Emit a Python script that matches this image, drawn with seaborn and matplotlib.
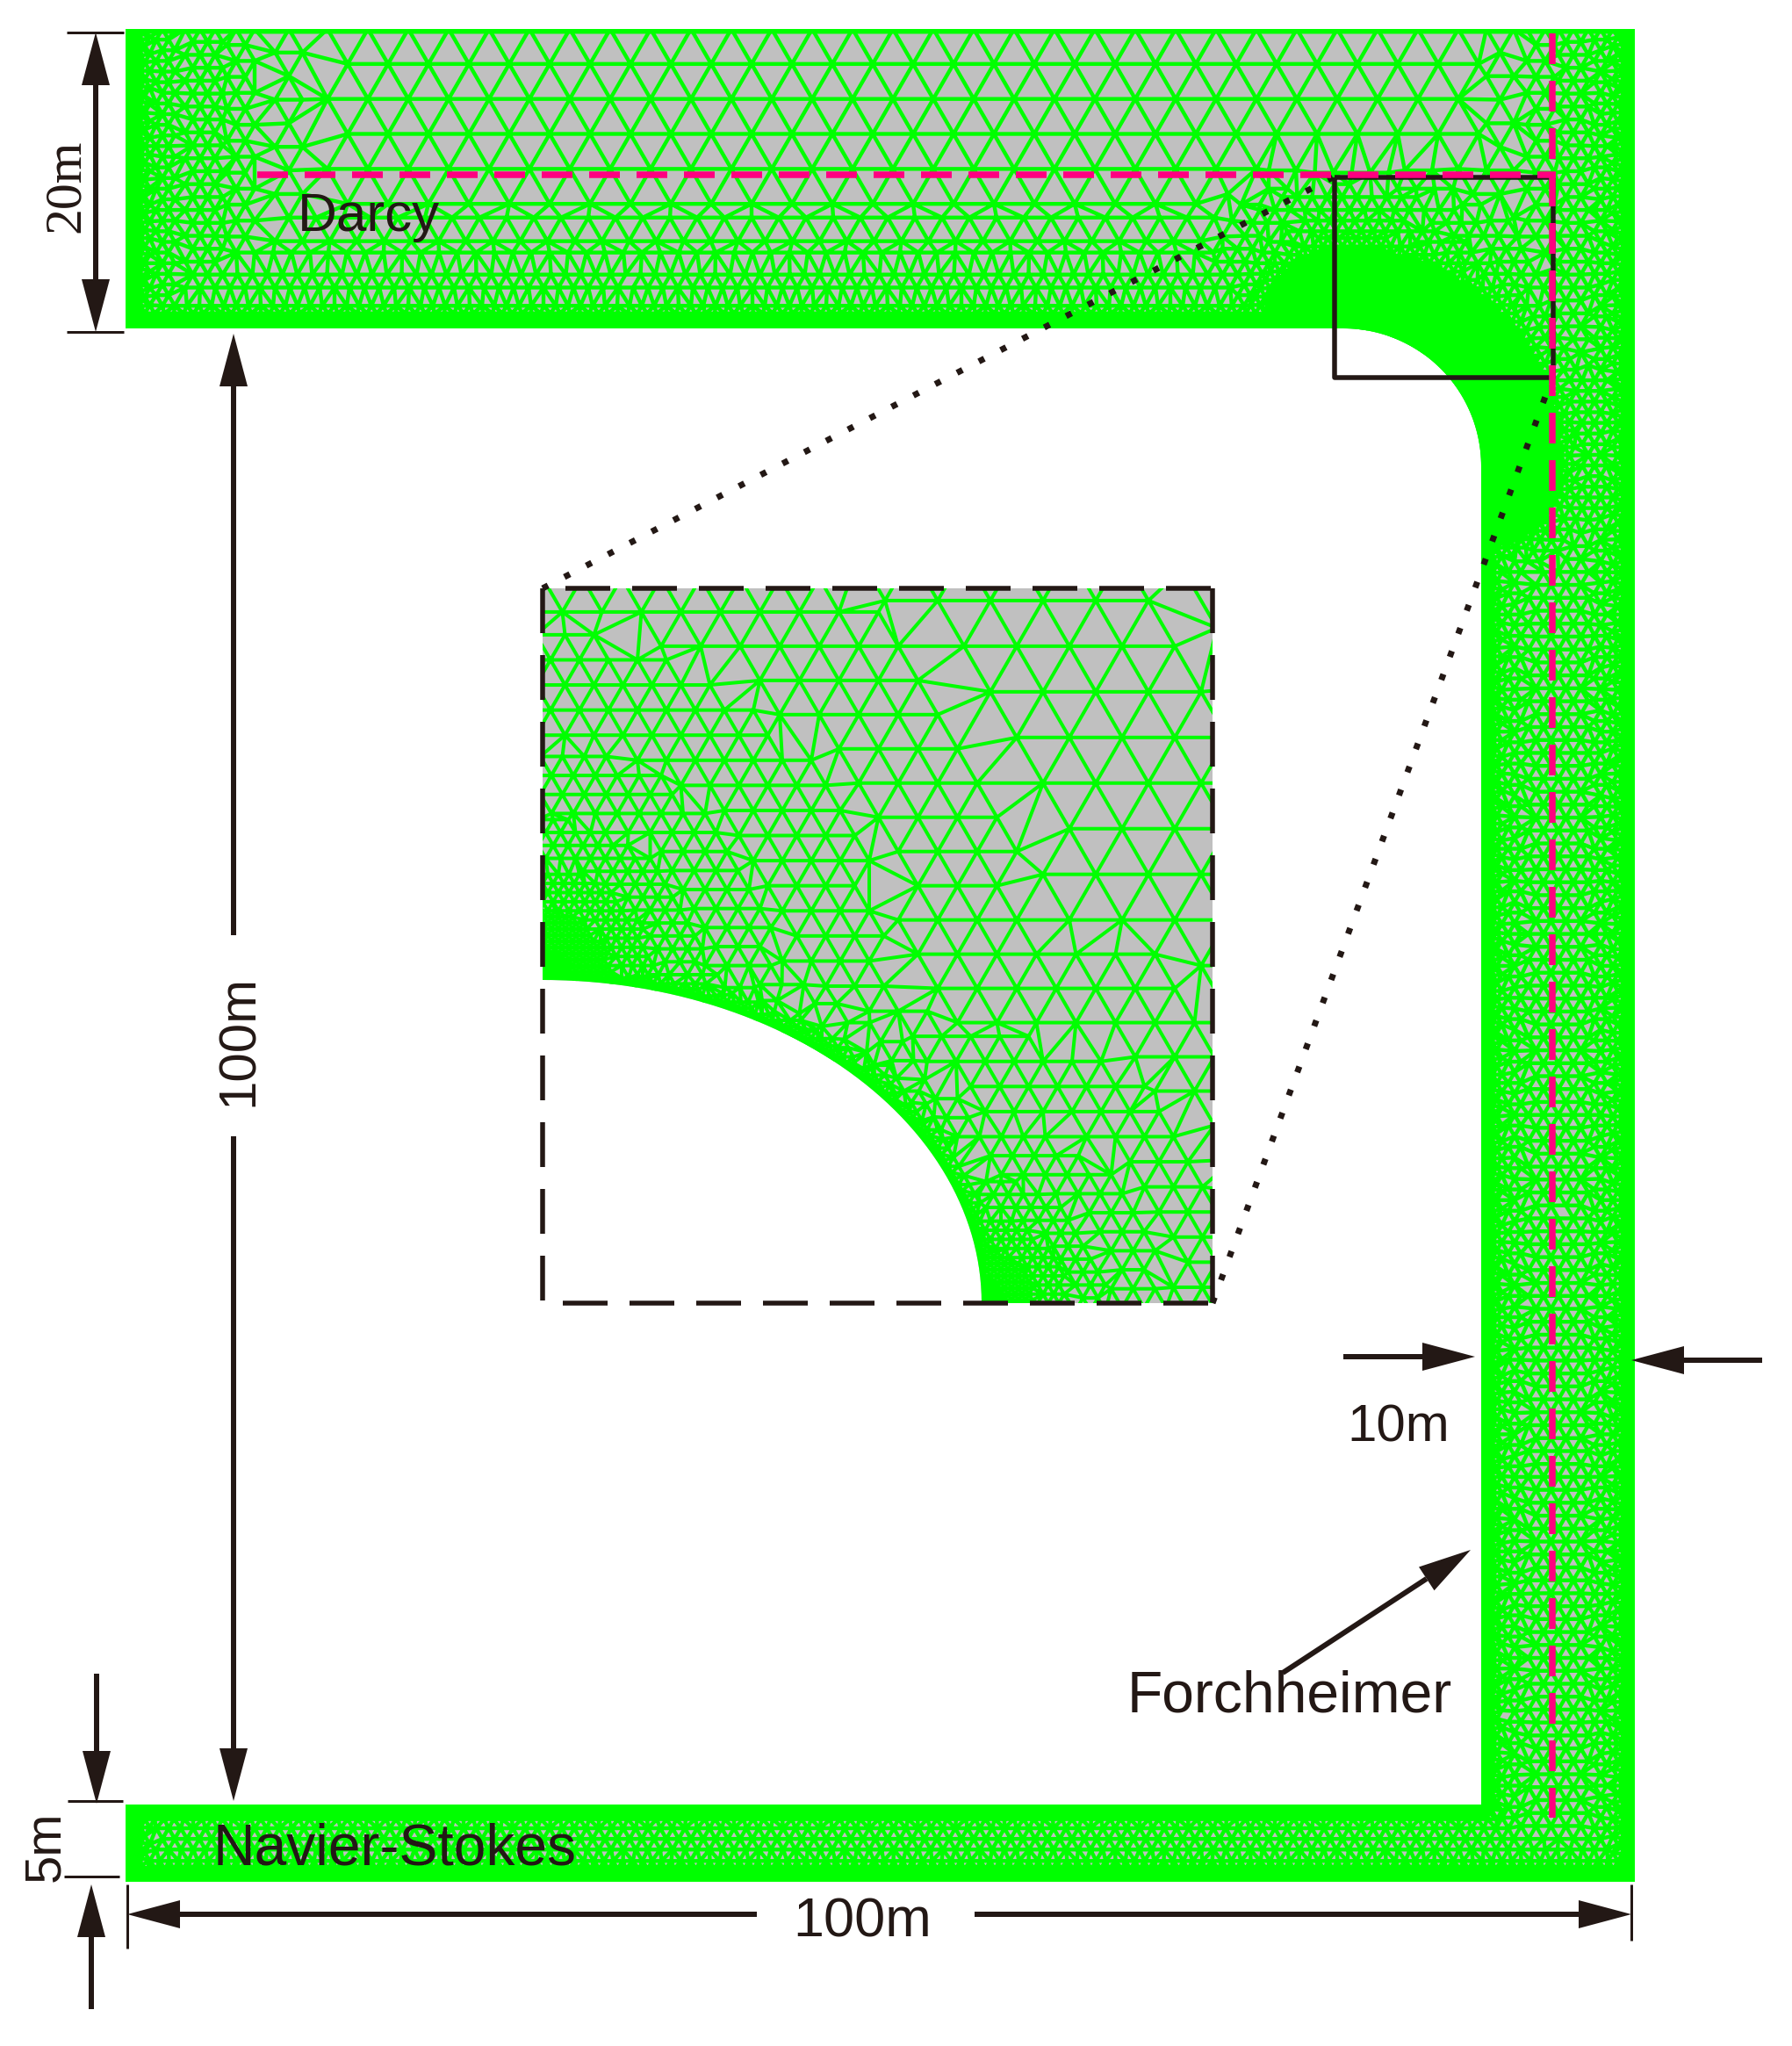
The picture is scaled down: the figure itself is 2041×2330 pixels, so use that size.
"""Mesh schematic of the Darcy / Forchheimer / Navier-Stokes channel, drawn in image pixels."""

import matplotlib.pyplot as plt
import matplotlib.tri as mtri
import numpy as np
import seaborn as sns
from matplotlib.patches import Polygon

W, H = 2041, 2330
PT = 0.72  # one pixel in points at dpi 100

GREEN = "#00ff00"
GRAY = "#c0c0c0"
INK = "#231815"
PINK = "#ff0080"

# channel outline
LEFT, RIGHT, TOP, BOTTOM = 143, 1862, 33, 2143
BAND_BOTTOM, LOWER_TOP, INNER_X = 374, 2055, 1687
CORNER_X, CORNER_Y, CORNER_R = 1530, 531, 157

# element size against distance to a wall, main mesh
MAIN_SIZES = [5, 11, 14, 17, 21, 31, 46]
MAIN_DIST = [0, 16, 26, 48, 90, 125, 170, 9999]

# element size against distance to the arc, zoomed mesh
INSET_SIZES = [4, 8, 12, 17, 25, 33, 45, 60, 78]
INSET_DIST = [0, 12, 28, 45, 65, 95, 140, 200, 300, 9999]
INSET_BOX = [618, 1381, 670, 1484]
INSET_A, INSET_B = 500, 368

# dimension arrows: tail x, tail y, tip x, tip y
ARROWS = [
    (109, 207, 109, 37), (109, 207, 109, 378),
    (266, 1065, 266, 380), (266, 1294, 266, 2051),
    (110, 1906, 110, 2054), (104, 2288, 104, 2146),
    (862, 2180, 145, 2180), (1110, 2180, 1858, 2180),
    (1530, 1545, 1680, 1545), (2007, 1549, 1858, 1549),
    (1461, 1905, 1675, 1765),
]
# thin extension lines: x0, y0, x1, y1
TICKS = [
    (76, 37, 141, 37), (76, 378, 141, 378),
    (77, 2051, 140, 2051), (73, 2137, 136, 2137),
    (145, 2146, 145, 2219), (1858, 2146, 1858, 2210),
]
# text, x, baseline y, size in px, rotation
LABELS = [
    ("Darcy", 339, 263, 62, 0),
    ("Navier-Stokes", 243, 2123, 66, 0),
    ("Forchheimer", 1284, 1949, 66, 0),
    ("10m", 1534, 1641, 60, 0),
    ("100m", 903, 2205, 63, 0),
    ("100m", 288, 1260, 60, 90),
    ("5m", 67, 2143, 58, 90),
]

sns.set_theme(style="white")
plt.rcParams["font.family"] = ["Liberation Sans", "DejaVu Sans"]
plt.rcParams["agg.path.chunksize"] = 10000


def seg(ax, xs, ys, px, ls="-", color=INK):
    sns.lineplot(x=xs, y=ys, ax=ax, color=color, linewidth=px * PT, linestyle=ls,
                 estimator=None, sort=False, legend=False,
                 solid_capstyle="butt")


def dashes(on, off, px):
    return (0, (on / px, off / px))


def arrow(ax, x0, y0, x1, y1, head=60, half=16, px=6):
    length = np.hypot(x1 - x0, y1 - y0)
    ux, uy = (x1 - x0) / length, (y1 - y0) / length
    bx, by = x1 - ux * head, y1 - uy * head
    seg(ax, [x0, bx], [y0, by], px)
    ax.fill([x1, bx - uy * half, bx + uy * half], [y1, by + ux * half, by - ux * half],
            color=INK, lw=0, zorder=6)


def hex_lattice(size, x0, x1, y0, y1):
    rows = np.arange(y0, y1 + size, size * np.sqrt(3) / 2)
    cols = np.arange(x0, x1 + size, size)
    gx, gy = np.meshgrid(cols, rows)
    gx = gx + (np.arange(len(rows)) % 2)[:, None] * size / 2
    return gx.ravel(), gy.ravel()


def main_inside(x, y):
    outer = (x >= LEFT) & (x <= RIGHT) & (y >= TOP) & (y <= BOTTOM)
    hole = (y > BAND_BOTTOM) & (y < LOWER_TOP) & (x < INNER_X)
    corner = (x > CORNER_X) & (y < CORNER_Y) & (np.hypot(x - CORNER_X, y - CORNER_Y) > CORNER_R)
    return outer & ~(hole & ~corner)


def main_distance(x, y):
    # distance to the walls, the top edge is not refined
    d = np.minimum.reduce([(x - LEFT) * 0.8, RIGHT - x, BOTTOM - y])
    r = np.hypot(x - CORNER_X, y - CORNER_Y)
    in_corner = (x >= CORNER_X) & (y <= CORNER_Y)
    hole = np.where(y <= BAND_BOTTOM, (BAND_BOTTOM - y) * 1.3, 1e6)
    hole = np.where(in_corner, r - CORNER_R, hole)
    hole = np.where((x > INNER_X) & (y > CORNER_Y) & (y < LOWER_TOP), x - INNER_X, hole)
    hole = np.where((x <= INNER_X) & (y >= LOWER_TOP), y - LOWER_TOP, hole)
    hole = np.where((x > INNER_X) & (y >= LOWER_TOP), np.hypot(x - INNER_X, y - LOWER_TOP), hole)
    # the mesh is much finer around the rounded corner
    arc = np.where(in_corner, np.abs(r - CORNER_R),
                   np.where(x < CORNER_X, np.hypot(x - CORNER_X, y - BAND_BOTTOM),
                            np.hypot(x - INNER_X, y - CORNER_Y)))
    return np.minimum.reduce([d, hole, (arc / 100) ** 3 * 20])


def main_nodes():
    xs, ys = [], []
    for i, size in enumerate(MAIN_SIZES):
        x, y = hex_lattice(size, LEFT, RIGHT, TOP, BOTTOM)
        keep = main_inside(x, y)
        x, y = x[keep], y[keep]
        d = main_distance(x, y)
        keep = (d >= MAIN_DIST[i]) & (d < MAIN_DIST[i + 1])
        xs.append(x[keep])
        ys.append(y[keep])
    return np.concatenate(xs), np.concatenate(ys)


def inset_nodes():
    x0, x1, y0, y1 = INSET_BOX
    t = np.linspace(0, np.pi / 2, 400)
    ax_, ay_ = x0 + INSET_A * np.cos(t), y1 - INSET_B * np.sin(t)
    xs, ys = [], []
    for i, size in enumerate(INSET_SIZES):
        x, y = hex_lattice(size, x0 - 90, x1 + 90, y0 - 90, y1 + 90)
        keep = ((x - x0) / INSET_A) ** 2 + ((y - y1) / INSET_B) ** 2 > 1
        keep &= (x >= x0 - 1) | (y < y1 - INSET_B - 5)
        x, y = x[keep], y[keep]
        d = np.min(np.hypot(x[:, None] - ax_, y[:, None] - ay_), axis=1)
        left = np.hypot(x - x0, y - (y1 - INSET_B))
        right = np.hypot(x - (x0 + INSET_A), y - y1)
        e = np.minimum.reduce([2 * d, d + 30, 0.35 * left, 0.45 * right])
        keep = (e >= INSET_DIST[i]) & (e < INSET_DIST[i + 1])
        xs.append(x[keep])
        ys.append(y[keep])
    return np.concatenate(xs), np.concatenate(ys)


def draw_mesh(ax, outline, nodes, lw_px, edge_px=0):
    patch = Polygon(outline, closed=True, facecolor=GRAY, edgecolor="none", zorder=1)
    ax.add_patch(patch)
    pts = np.unique(np.column_stack(nodes), axis=0)
    tri = mtri.Triangulation(pts[:, 0], pts[:, 1])
    lines, _ = ax.triplot(tri, color=GREEN, lw=lw_px * PT, zorder=2)
    lines.set_clip_path(patch)
    if edge_px:
        edge = Polygon(outline, closed=True, facecolor="none", edgecolor=GREEN,
                       lw=edge_px * PT, zorder=2)
        ax.add_patch(edge)
        edge.set_clip_path(patch)


def main():
    fig = plt.figure(figsize=(W / 100, H / 100), dpi=100)
    ax = fig.add_axes([0, 0, 1, 1])

    # channel mesh
    t = np.linspace(0, np.pi / 2, 60)
    arc = np.column_stack([CORNER_X + CORNER_R * np.cos(t), CORNER_Y - CORNER_R * np.sin(t)])
    outline = np.vstack([
        [[LEFT, TOP], [RIGHT, TOP], [RIGHT, BOTTOM], [LEFT, BOTTOM],
         [LEFT, LOWER_TOP], [INNER_X, LOWER_TOP]],
        arc,
        [[LEFT, BAND_BOTTOM]],
    ])
    draw_mesh(ax, outline, main_nodes(), 4.4, edge_px=11)

    # zoomed mesh
    x0, x1, y0, y1 = INSET_BOX
    ell = np.column_stack([x0 + INSET_A * np.cos(t), y1 - INSET_B * np.sin(t)])
    inset = np.vstack([[[x0, y0], [x1, y0], [x1, y1]], ell])
    draw_mesh(ax, inset, inset_nodes(), 4.0)

    # zoom window and dotted leaders
    seg(ax, [1520, 1769, 1769, 1520, 1520], [202, 202, 430, 430, 202], 5.5)
    dots = dashes(7, 21, 7)
    seg(ax, [x0, 1518], [y0, 202], 7, dots)
    seg(ax, [x1, 1768], [y1, 430], 7, dots)
    frame = dashes(51, 25, 5.5)
    seg(ax, [x0, x0], [y0, y1], 5.5, frame)
    seg(ax, [x0 + 26, x1], [y0, y0], 5.5, frame)
    seg(ax, [x1, x1], [y0, y1], 5.5, frame)
    seg(ax, [x0 + 23, x1], [y1, y1], 5.5, frame)

    # model interfaces
    pink = dashes(35, 19, 7.5)
    seg(ax, [293, 1772], [199, 199], 7.5, pink, PINK)
    seg(ax, [1768, 1768], [38, 2070], 7.5, pink, PINK)

    for a in ARROWS:
        arrow(ax, *a)
    for x_a, y_a, x_b, y_b in TICKS:
        seg(ax, [x_a, x_b], [y_a, y_b], 3)

    for text, x, y, size, rot in LABELS:
        ax.text(x, y, text, fontsize=size * PT, rotation=rot, color=INK, ha="left",
                va="baseline", rotation_mode="anchor", zorder=7)
    ax.text(90, 265, "20m", fontsize=60 * PT, rotation=90, color=INK, ha="left",
            va="baseline", rotation_mode="anchor", family="Liberation Serif", zorder=7)

    ax.set_xlim(0, W)
    ax.set_ylim(H, 0)
    ax.axis("off")
    fig.savefig("out.png", dpi=100, facecolor="white")


if __name__ == "__main__":
    main()
